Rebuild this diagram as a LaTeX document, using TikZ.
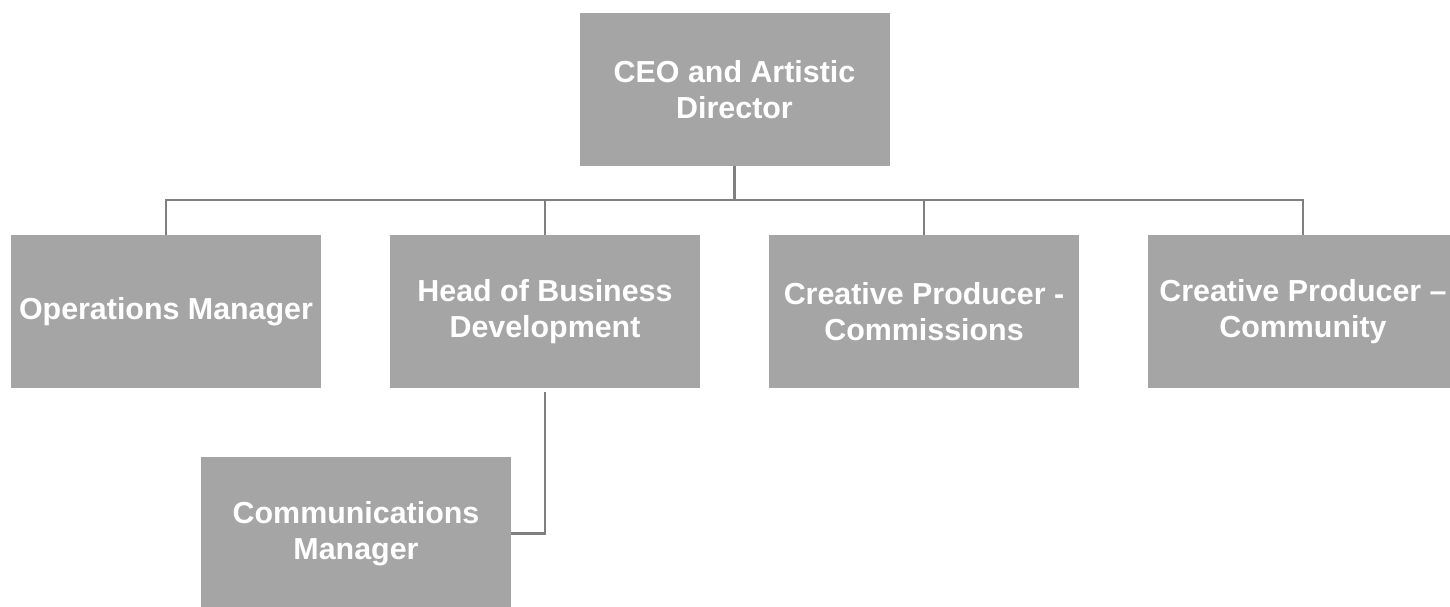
\documentclass[tikz,border=0pt]{standalone}
\usepackage{fontspec}
\setmainfont{Liberation Sans}
\usepackage{tikz}
\usetikzlibrary{positioning,calc}
\definecolor{boxgray}{HTML}{A5A5A5}
\definecolor{linegray}{HTML}{7F7F7F}

\begin{document}
\begin{tikzpicture}[x=0.5pt,y=-0.5pt,
    role/.style={fill=boxgray,text=white,inner sep=0pt,align=center,
      minimum width=155pt,minimum height=76.5pt,
      font=\fontsize{15.2}{18}\selectfont\bfseries},
    link/.style={draw=linegray,line width=1.1pt}]
        \useasboundingbox (0,0) rectangle (1450,606);
        % boxes
        \node[role] (ceo) at (734.5,89.5) {CEO and Artistic\\Director};
        \node[role] (ops) at (166,311.5) {Operations Manager};
        \node[role] (head) at (545,311.5) {Head of Business\\Development};
        \node[role] (commis) at (924,311.5) {Creative Producer -\\Commissions};
        \node[role] (commun) at (1303,311.5) {Creative Producer --\\Community};
        \node[role] (comms) at (356,533.5) {Communications\\Manager};
        % connectors
        \coordinate (bus) at (734.5,200);
        \draw[link] (ceo.south) -- (bus);
        \draw[link] (ops.north) -- (ops.north |- bus)
            -- (commun.north |- bus) -- (commun.north);
        \draw[link] (head.north) -- (head.north |- bus);
        \draw[link] (commis.north) -- (commis.north |- bus);
        \draw[link] ([yshift=-2pt]head.south) |- (comms.east);
    \end{tikzpicture}
\end{document}
